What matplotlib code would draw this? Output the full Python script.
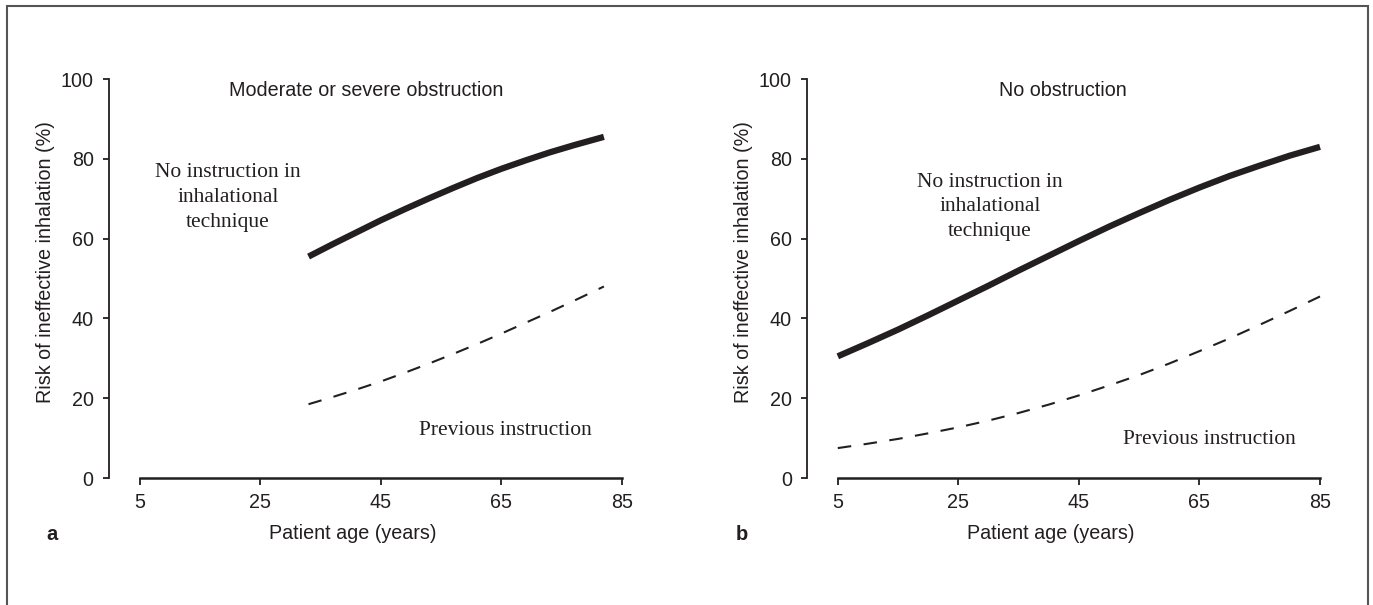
import matplotlib
matplotlib.use("Agg")
import matplotlib.pyplot as plt
from matplotlib.patches import Rectangle

# Panel a: moderate or severe obstruction
age_a = [33, 37, 41, 45, 49, 53, 57, 61, 65, 69, 73, 77, 82]
no_instr_a = [55.5, 58.6, 61.6, 64.6, 67.4, 70.1, 72.7, 75.2, 77.5, 79.6, 81.6, 83.4, 85.5]
prev_instr_a = [18.5, 20.3, 22.2, 24.2, 26.4, 28.7, 31.1, 33.6, 36.2, 38.9, 41.6, 44.4, 48.0]

# Panel b: no obstruction
age_b = [5, 10, 15, 20, 25, 30, 35, 40, 45, 50, 55, 60, 65, 70, 75, 80, 85]
no_instr_b = [30.5, 33.8, 37.2, 40.8, 44.5, 48.2, 52.0, 55.7, 59.4, 63.0, 66.4, 69.7,
              72.8, 75.7, 78.3, 80.8, 83.0]
prev_instr_b = [7.5, 8.6, 9.8, 11.2, 12.7, 14.4, 16.3, 18.4, 20.7, 23.2, 25.8, 28.7,
                31.8, 35.0, 38.4, 41.9, 45.5]

x_ticks = [5, 25, 45, 65, 85]
y_ticks = [0, 20, 40, 60, 80, 100]

plt.rcParams['font.family'] = ['Liberation Sans', 'DejaVu Sans']
ink = '#231f20'
serif = 'Liberation Serif'
fs = 14.2

fig = plt.figure(figsize=(13.73, 6.05), dpi=100)
ax_a = fig.add_axes([0.0794, 0.2099, 0.3758, 0.6595])
ax_b = fig.add_axes([0.5878, 0.2099, 0.3758, 0.6595])

panels = [
    (ax_a, age_a, no_instr_a, prev_instr_a, 'Moderate or severe obstruction', 42.5,
     (19.6, 70.3), (65.7, 11.8), 'a', -0.110),
    (ax_b, age_b, no_instr_b, prev_instr_b, 'No obstruction', 42.4,
     (30.2, 68.0), (66.7, 9.7), 'b', -0.126),
]

for ax, age, solid, dashed, title, title_x, txt1, txt2, letter, letter_x in panels:
    ax.plot(age, solid, color=ink, lw=4.5, solid_capstyle='butt')
    ax.plot(age, dashed, color=ink, lw=1.5, dashes=(6.5, 6))
    ax.set_xlim(-0.1, 85.5)
    ax.set_ylim(0, 100)
    for s in ['top', 'right']:
        ax.spines[s].set_visible(False)
    ax.spines['left'].set_bounds(0, 100)
    ax.spines['bottom'].set_bounds(5, 85)
    ax.spines['left'].set_linewidth(1.3)
    ax.spines['bottom'].set_linewidth(1.8)
    ax.spines['left'].set_color(ink)
    ax.spines['bottom'].set_color(ink)
    ax.set_xticks(x_ticks)
    ax.set_yticks(y_ticks)
    ax.tick_params(axis='x', direction='out', length=5, width=1.3, pad=6,
                   labelsize=fs, color=ink, labelcolor=ink)
    ax.tick_params(axis='y', direction='out', length=4, width=1.3, pad=7,
                   labelsize=fs, color=ink, labelcolor=ink)
    ax.set_ylabel('Risk of ineffective inhalation (%)', fontsize=fs, color=ink)
    ax.yaxis.set_label_coords(-0.105, 0.54)
    ax.set_xlabel('Patient age (years)', fontsize=fs, color=ink)
    ax.xaxis.set_label_coords(0.473, -0.115)
    ax.text(title_x, 97, title, ha='center', va='center', fontsize=fs, color=ink)
    ax.text(txt1[0], txt1[1], 'No instruction in\ninhalational\ntechnique', ha='center',
            va='center', fontsize=15.5, family=serif, color=ink, linespacing=1.4)
    ax.text(txt2[0], txt2[1], 'Previous instruction', ha='center', va='center',
            fontsize=15.5, family=serif, color=ink)
    ax.text(letter_x, -0.141, letter, transform=ax.transAxes, fontsize=14.5,
            fontweight='bold', color=ink, ha='center', va='center')

# outer frame
fig.patches.append(Rectangle((7 / 1373, -0.05), (1368 - 7) / 1373, 1.05 - 6 / 605,
                             transform=fig.transFigure, fill=False,
                             edgecolor='#555555', lw=1.5, clip_on=False))

fig.savefig('out.png', dpi=100)
